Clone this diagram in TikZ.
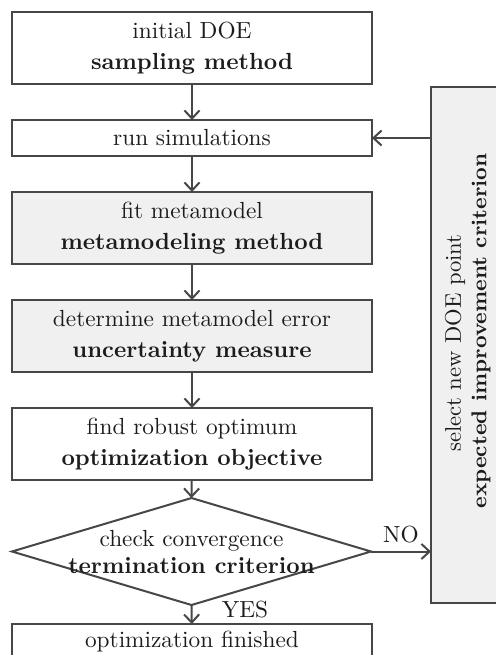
\documentclass[tikz,border=0pt]{standalone}
\usetikzlibrary{shapes.geometric,arrows.meta}
\definecolor{edgegray}{HTML}{474747}
\definecolor{boxfill}{HTML}{F0F0F0}
\definecolor{inkgray}{HTML}{1C1C1C}
\newcommand\pxu{0.429pt}
\begin{document}
\begin{tikzpicture}[x=0.429pt,y=-0.429pt,
  every node/.style={text=inkgray},
  box/.style={draw=edgegray, line width=0.86pt,
    minimum width={360*\pxu}, minimum height={72*\pxu},
    inner sep=0pt, outer sep=0pt, align=center,
    font=\fontsize{10}{13.3}\selectfont},
  thinbox/.style={box, minimum height={36*\pxu}},
  shaded/.style={fill=boxfill},
  arr/.style={draw=edgegray, line width=0.86pt,
    -{Straight Barb[length=3.5pt,width=6.5pt]}},
  sidetext/.style={rotate=90, inner sep=0pt},
]
\useasboundingbox (0,0) rectangle (496,655);
\clip (0,0) rectangle (496,655);

% main chain of steps
\node[box] (doe) at (192,48) {initial DOE\\\textbf{sampling method}};
\node[thinbox] (run) at (192,138) {run simulations};
\node[box,shaded] (fit) at (192,228) {fit metamodel\\\textbf{metamodeling method}};
\node[box,shaded] (err) at (192,336) {determine metamodel error\\\textbf{uncertainty measure}};
\node[box] (opt) at (192,444) {find robust optimum\\\textbf{optimization objective}};

% decision
\node[diamond, draw=edgegray, line width=0.86pt,
      minimum width={359*\pxu}, minimum height={107*\pxu},
      inner sep=0pt, outer sep=0pt] (check) at (191.5,551.5) {};
\node[align=center, font=\fontsize{10}{11.6}\selectfont] (checktext) at (check.center)
  {check convergence\\\textbf{termination criterion}};

\node[thinbox] (fin) at (192,642) {optimization finished};

% feedback step, with its two lines set upright
\node[box, shaded, minimum width={74*\pxu}, minimum height={516*\pxu}] (sel) at (468,345) {};
\node[sidetext, font=\fontsize{9.7}{11}\selectfont] (seltop) at (455,343) {select new DOE point};
\node[sidetext, font=\fontsize{9.2}{11}\selectfont\bfseries] (selbot) at (481,331) {expected improvement criterion};

% connectors
\draw[arr] (doe) -- (run);
\draw[arr] (run) -- (fit);
\draw[arr] (fit) -- (err);
\draw[arr] (err) -- (opt);
\draw[arr] (opt) -- (check.north);
\draw[arr] (check.south) -- (fin);
\draw[arr] (check.east) -- node[above, font=\fontsize{10}{12}\selectfont] (no) {NO} (check.east -| sel.west);
\draw[arr] (sel.west |- run.east) -- (run.east);
\node[font=\fontsize{10}{12}\selectfont] (yes) at (245,610) {YES};
\end{tikzpicture}
\end{document}
